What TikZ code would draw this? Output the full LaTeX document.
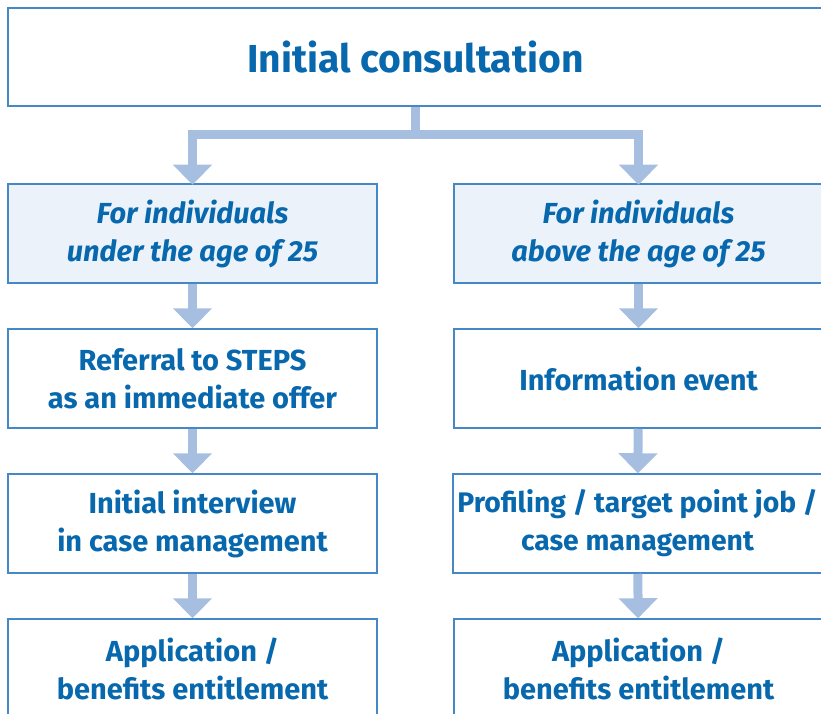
\documentclass[tikz,border=0pt]{standalone}
\usepackage{fontspec}
\setmainfont{Fira Sans}
\usetikzlibrary{arrows.meta}
\definecolor{txtblue}{RGB}{8,104,174}
\definecolor{edgeblue}{RGB}{70,136,198}
\definecolor{arrblue}{RGB}{166,190,224}
\definecolor{fillblue}{RGB}{236,242,250}
\begin{document}
\begin{tikzpicture}[x=1pt,y=-1pt,
  box/.style={draw=edgeblue,line width=1.5pt,fill=white,minimum width=369pt,minimum height=99pt,inner sep=0pt,align=center,text=txtblue,font=\fontsize{29}{38}\selectfont\bfseries},
  hibox/.style={box,fill=fillblue,font=\fontsize{29}{38}\selectfont\bfseries\itshape},
  flow/.style={draw=arrblue,line width=9pt,-{Triangle[length=20pt,width=38pt]}}]
\useasboundingbox (0,0) rectangle (821,714);
\clip (0,0) rectangle (821,714);
\node[box,minimum width=815pt,minimum height=98pt,font=\fontsize{39}{46}\selectfont\bfseries] (top) at (415.5,57) {Initial consultation};
\node[hibox] (l1) at (192.5,233.5) {For individuals\\under the age of 25};
\node[hibox] (r1) at (638.5,233.5) {For individuals\\above the age of 25};
\node[box] (l2) at (192.5,378.5) {Referral to STEPS\\as an immediate offer};
\node[box] (r2) at (638.5,378.5) {Information event};
\node[box] (l3) at (192.5,523.5) {Initial interview\\in case management};
\node[box,font=\fontsize{28.3}{38}\selectfont\bfseries] (r3) at (637.5,523.5) {Profiling / target point job /\\case management};
\node[box] (l4) at (192.5,668.5) {Application /\\benefits entitlement};
\node[box] (r4) at (638.5,668.5) {Application /\\benefits entitlement};
\coordinate (fork) at (415.5,135);
\draw[flow] (top.south) -- (fork) -| ([yshift=-1.5pt]l1.north);
\draw[flow] (fork) -| ([yshift=-1.5pt]r1.north);
\draw[flow] (l1) -- (l2);
\draw[flow] (l2) -- (l3);
\draw[flow] (l3) -- (l4);
\draw[flow] (r1) -- (r2);
\draw[flow] (r2) -- (r3);
\draw[flow] (r3) -- (r4);
\end{tikzpicture}
\end{document}
